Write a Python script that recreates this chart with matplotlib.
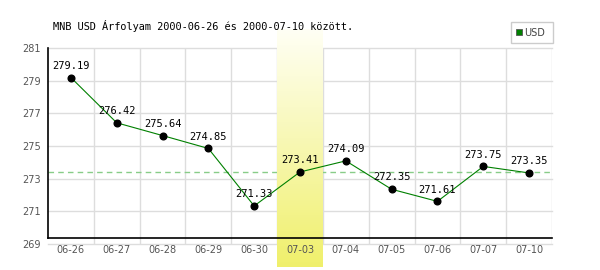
import matplotlib
matplotlib.use("Agg")
import matplotlib.pyplot as plt
import numpy as np
from matplotlib.patches import Rectangle
from matplotlib.transforms import blended_transform_factory

dates = ["06-26", "06-27", "06-28", "06-29", "06-30", "07-03",
         "07-04", "07-05", "07-06", "07-07", "07-10"]
values = [279.19, 276.42, 275.64, 274.85, 271.33, 273.41,
          274.09, 272.35, 271.61, 273.75, 273.35]
highlight_index = 5
reference_value = 273.41
series_name = "USD"
title = "MNB USD Árfolyam 2000-06-26 és 2000-07-10 között."
y_ticks = [269, 271, 273, 275, 277, 279, 281]

W, H = 600, 270
fig = plt.figure(figsize=(6, 2.7), dpi=100)
fig.patch.set_facecolor("white")

def fx(px):
    return px / W

def fy(py):
    return 1 - py / H

ax_left, ax_right, ax_top, ax_bot = 48, 552, 48, 244
ax = fig.add_axes([fx(ax_left), fy(ax_bot), (ax_right - ax_left) / W, (ax_bot - ax_top) / H])
ax.set_facecolor("white")

x = np.arange(len(dates))

# grid lines
for yv in y_ticks:
    ax.axhline(yv, color="#dddddd", lw=1.0, zorder=1, clip_on=False)
for i in range(len(dates)):
    ax.axvline(i + 0.5, color="#dddddd", lw=1.0, zorder=1)

# reference dashed line (beneath highlight)
ax.axhline(reference_value, color="#88cc88", lw=1.0, ls=(0, (4, 3)), zorder=1.1)

# highlight band with vertical gradient
trans = blended_transform_factory(ax.transData, ax.transAxes)
grad = np.linspace(0, 1, 256).reshape(-1, 1)
c_top = np.array([1.0, 1.0, 0.96])
c_bot = np.array([0.94, 0.94, 0.42])
img = c_top[None, None, :] * (1 - grad[:, :, None]) + c_bot[None, None, :] * grad[:, :, None]
ax.imshow(img, extent=(highlight_index - 0.5, highlight_index + 0.5, -0.118, 1.092),
          transform=trans, aspect="auto", origin="upper", zorder=1.2, clip_on=False,
          interpolation="bilinear")
ax.set_xlim(-0.5, len(dates) - 0.5)
ax.set_ylim(y_ticks[0], y_ticks[-1])

# spines
for s in ["top", "right", "bottom"]:
    ax.spines[s].set_visible(False)
ax.spines["left"].set_color("black")
ax.spines["left"].set_linewidth(1.2)
ax.spines["left"].set_zorder(5)
ax.spines["left"].set_bounds(269.35, y_ticks[-1])
ax.plot([0, 1], [0.029, 0.029], transform=ax.transAxes, color="black", lw=1.2,
        zorder=5, clip_on=False)

# data
ax.plot(x, values, color="#008000", lw=0.8, zorder=6)
ax.plot(x, values, "o", color="black", ms=4.8, zorder=7)
for xi, v in zip(x, values):
    ax.annotate(f"{v:.2f}", (xi, v), xytext=(0, 8.5), textcoords="offset points",
                ha="center", va="center", fontsize=7.5, family="DejaVu Sans Mono",
                color="black", zorder=8)

# ticks
ax.set_xticks(x)
ax.set_xticklabels(dates)
ax.set_yticks(y_ticks)
ax.set_yticklabels([str(t) for t in y_ticks])
ax.tick_params(axis="both", length=0, colors="#555555", labelsize=7)
ax.tick_params(axis="y", pad=5)
ax.tick_params(axis="x", pad=1)
for lab in ax.get_xticklabels() + ax.get_yticklabels():
    lab.set_family("DejaVu Sans")

# title
fig.text(fx(53), fy(26.5), title, ha="left", va="center", fontsize=7.4,
         family="DejaVu Sans Mono", color="black")

# legend
fig.add_artist(Rectangle((fx(511), fy(43)), (553 - 511) / W, (43 - 22) / H,
                         transform=fig.transFigure, facecolor="white",
                         edgecolor="#cccccc", lw=1.0))
fig.add_artist(Rectangle((fx(516), fy(35)), 6 / W, 6 / H, transform=fig.transFigure,
                         facecolor="#008000", edgecolor="#555555", lw=0.6))
fig.text(fx(524), fy(32.5), series_name, ha="left", va="center", fontsize=7,
         family="DejaVu Sans", color="#444444")

fig.savefig("out.png", dpi=100, facecolor="white")
